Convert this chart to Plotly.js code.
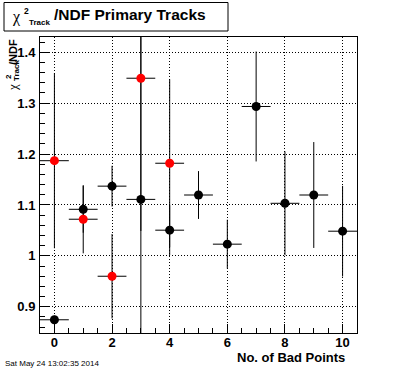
<!DOCTYPE html>
<html>
<head>
<meta charset="utf-8">
<script src="https://cdn.plot.ly/plotly-3.0.1.min.js"></script>
<style>html,body{margin:0;padding:0;background:#fff;}#chart{width:396px;height:372px;}</style>
</head>
<body>
<div id="chart"></div>
<script>
// ---- data ----
const badPoints = [0, 1, 2, 3, 4, 5, 6, 7, 8, 9, 10];
const blackVals = [0.8745, 1.0915, 1.137, 1.111, 1.0505, 1.1196, 1.023, 1.2935, 1.1033, 1.1196, 1.0485];
const blackErrs = [0.008, 0.046, 0.040, 0.36, 0.049, 0.047, 0.048, 0.108, 0.102, 0.104, 0.089];
const redPoints = [0, 1, 2, 3, 4];
const redVals = [1.187, 1.072, 0.960, 1.349, 1.182];
const redErrs = [0.172, 0.067, 0.083, 0.30, 0.165];
const binHalfWidth = 0.5;
const titleText = "/NDF Primary Tracks";
const xTitleText = "No. of Bad Points";
const dateText = "Sat May 24 13:02:35 2014";

// ---- layout geometry (pixels) ----
const W = 396, H = 372, L = 40, R = 39, T = 37, B = 39;
const PW = W - L - R, PH = H - T - B;
const px = x => (x - L) / PW;
const py = y => (H - B - y) / PH;
const FONT = "Liberation Sans, Arial, sans-serif";

function errTrace(xs, ys, es, color) {
  return {
    type: 'scatter', mode: 'markers', x: xs, y: ys,
    marker: {color: color, size: 9, symbol: 'circle', line: {width: 0}},
    error_y: {type: 'data', array: es, visible: true, color: '#000', thickness: 1, width: 0},
    error_x: {type: 'data', array: xs.map(() => binHalfWidth), visible: true, color: '#000', thickness: 1, width: 0},
    hoverinfo: 'none', showlegend: false, cliponaxis: true
  };
}

const data = [
  errTrace(badPoints, blackVals, blackErrs, '#000000'),
  errTrace(redPoints, redVals, redErrs, '#ff0000')
];

function ann(text, x, y, size, opts) {
  return Object.assign({
    text: text, xref: 'paper', yref: 'paper', x: px(x), y: py(y),
    showarrow: false, xanchor: 'center', yanchor: 'middle',
    font: {family: FONT, size: size, color: '#000', weight: 'bold'}
  }, opts || {});
}

const annotations = [
  // title
  ann('χ', 17, 17, 16, {font: {family: 'Liberation Serif, serif', size: 16, color: '#000'}}),
  ann('2', 26.5, 11, 8.5),
  ann('Track', 27, 22, 8, {xanchor: 'left'}),
  ann(titleText, 52, 15, 15.5, {xanchor: 'left'}),
  // x title
  ann(xTitleText, 347, 357, 13, {xanchor: 'right'}),
  // y title pieces (rotated)
  ann('/NDF', 13, 37, 11, {textangle: -90, yanchor: 'top'}),
  ann('Track', 16, 71, 8, {textangle: -90}),
  ann('2', 9, 77, 8, {textangle: -90}),
  ann('χ', 12, 87, 13, {textangle: -90, font: {family: 'Liberation Serif, serif', size: 13, color: '#000'}}),
  // date
  ann(dateText, 3, 363, 8, {xanchor: 'left', font: {family: FONT, size: 8, color: '#000'}})
];

const axisCommon = {
  showline: true, mirror: true, linecolor: '#000', linewidth: 1,
  ticks: 'inside', tickcolor: '#000', tickwidth: 1, ticklen: 9,
  showgrid: true, gridcolor: '#000', gridwidth: 1, griddash: '1px,2px',
  zeroline: false, fixedrange: true,
  tickfont: {family: FONT, size: 13, color: '#000', weight: 'bold'}
};

const layout = {
  width: W, height: H,
  margin: {l: L, r: R, t: T, b: B, pad: 0},
  paper_bgcolor: '#fff', plot_bgcolor: '#fff',
  showlegend: false,
  xaxis: Object.assign({}, axisCommon, {
    range: [-0.5, 10.5], tick0: 0, dtick: 2,
    minor: {dtick: 0.5, ticks: 'inside', ticklen: 5, tickcolor: '#000', showgrid: false},
    ticklabelstandoff: -3
  }),
  yaxis: Object.assign({}, axisCommon, {
    range: [0.8485, 1.430], tick0: 0, dtick: 0.1,
    minor: {dtick: 0.02, ticks: 'inside', ticklen: 5, tickcolor: '#000', showgrid: false},
    ticklabelstandoff: 1
  }),
  shapes: [{
    type: 'rect', xref: 'paper', yref: 'paper', layer: 'below',
    x0: px(4), x1: px(228), y0: py(31), y1: py(2.5),
    line: {color: '#000', width: 1}, fillcolor: '#fff'
  }],
  annotations: annotations
};

Plotly.newPlot('chart', data, layout, {staticPlot: true, displayModeBar: false});
</script>
</body>
</html>
